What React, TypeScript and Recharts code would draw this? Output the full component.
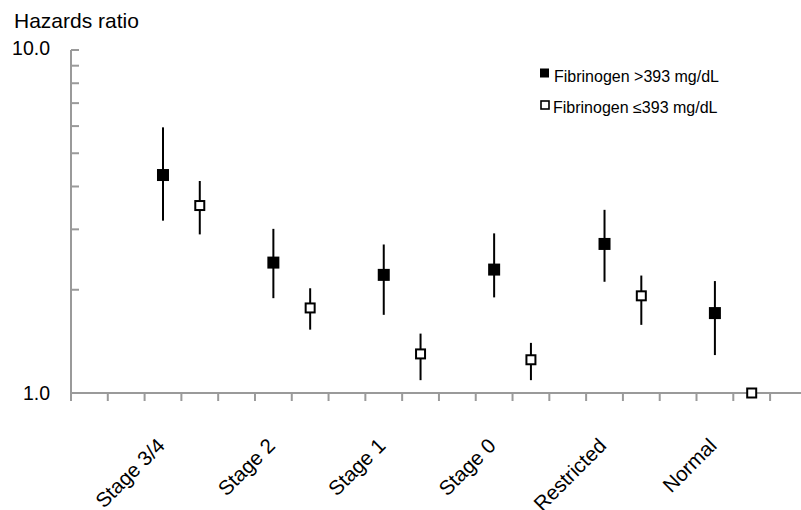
import React from 'react';
import { ScatterChart, Scatter, XAxis, YAxis, ErrorBar, Legend } from 'recharts';

const categories = ['Stage 3/4', 'Stage 2', 'Stage 1', 'Stage 0', 'Restricted', 'Normal'];
const seriesNames = ['Fibrinogen >393 mg/dL', 'Fibrinogen \u2264393 mg/dL'];

const highHR = [4.32, 2.40, 2.21, 2.29, 2.72, 1.71];
const highLo = [3.18, 1.89, 1.69, 1.90, 2.11, 1.29];
const highHi = [5.95, 3.01, 2.71, 2.92, 3.42, 2.12];

const lowHR = [3.52, 1.77, 1.30, 1.25, 1.92, 1.00];
const lowLo = [2.90, 1.53, 1.09, 1.09, 1.58, 1.00];
const lowHi = [4.15, 2.02, 1.49, 1.40, 2.20, 1.00];

const yTicks = [1, 2, 3, 4, 5, 6, 7, 8, 9, 10];
const yLabelTicks = [1, 10];
const yTickLabels = ['1.0', '10.0'];

const slotCount = 20;
const firstSlot = 2;
const slotsPerGroup = 3;
const xMax = 19.84;

const FONT = '"Liberation Sans", Arial, Helvetica, sans-serif';
const AXIS = '#9a9a9a';

const slotTicks = Array.from({ length: slotCount }, (_, i) => i);
const catPos = categories.map((_, i) => firstSlot + i * slotsPerGroup + 0.5);

const highData = categories.map((c, i) => ({
  name: c,
  x: catPos[i],
  y: highHR[i],
  err: [highHR[i] - highLo[i], highHi[i] - highHR[i]],
}));
const lowData = categories.map((c, i) => ({
  name: c,
  x: catPos[i] + 1,
  y: lowHR[i],
  err: [lowHR[i] - lowLo[i], lowHi[i] - lowHR[i]],
}));

const XTick = (props: any) => {
  const { x, y, payload } = props;
  const v = payload.value;
  const ci = catPos.indexOf(v);
  if (ci >= 0) {
    const ax = x + 3;
    const ay = y + 54;
    return (
      <text
        x={ax}
        y={ay}
        textAnchor="end"
        transform={`rotate(-45 ${ax} ${ay})`}
        fontSize={20.5}
        fontFamily={FONT}
        fill="#000"
      >
        {categories[ci]}
      </text>
    );
  }
  return <line x1={x} y1={y} x2={x} y2={y + 8} stroke={AXIS} strokeWidth={2} />;
};

const YTick = (props: any) => {
  const { x, y, payload } = props;
  const v = payload.value;
  const li = yLabelTicks.indexOf(v);
  return (
    <g>
      <line x1={x} y1={y} x2={x + 8} y2={y} stroke={AXIS} strokeWidth={2} />
      {li >= 0 && (
        <text
          x={x - 21}
          y={y + (v === 10 ? -2 : 0)}
          textAnchor="end"
          dominantBaseline="central"
          fontSize={19.5}
          fontFamily={FONT}
          fill="#000"
        >
          {yTickLabels[li]}
        </text>
      )}
    </g>
  );
};

const FilledSquare = (props: any) => {
  const { cx, cy } = props;
  return <rect x={cx - 6} y={cy - 6} width={12} height={12} fill="#000" />;
};

const OpenSquare = (props: any) => {
  const { cx, cy } = props;
  return <rect x={cx - 4.5} y={cy - 4.5} width={9} height={9} fill="#fff" stroke="#000" strokeWidth={2} />;
};

const LegendContent = () => (
  <svg width={200} height={70} style={{ display: 'block' }}>
    <rect x={6} y={13.5} width={9} height={9} fill="#000" />
    <text x={20} y={26.5} fontSize={16} fontFamily={FONT} fill="#000">
      {seriesNames[0]}
    </text>
    <rect x={7} y={46} width={8} height={8} fill="#fff" stroke="#000" strokeWidth={1.6} />
    <text x={19} y={57.5} fontSize={16} fontFamily={FONT} fill="#000">
      {seriesNames[1]}
    </text>
  </svg>
);

export default function App() {
  return (
    <div style={{ position: 'relative', width: 801, height: 510, background: '#fff', fontFamily: FONT }}>
      <style>{'body{margin:0;background:#fff;}'}</style>
      <div
        style={{
          position: 'absolute',
          left: 14,
          top: 11,
          fontSize: 21,
          lineHeight: '20px',
          fontFamily: FONT,
          color: '#000',
          whiteSpace: 'nowrap',
        }}
      >
        Hazards ratio
      </div>
      <ScatterChart width={801} height={510} margin={{ top: 50, right: 0, bottom: 0, left: 0 }}>
        <XAxis
          type="number"
          dataKey="x"
          domain={[0, xMax]}
          ticks={[...slotTicks, ...catPos]}
          interval={0}
          tickSize={0}
          tickMargin={0}
          tickLine={false}
          tick={<XTick />}
          axisLine={{ stroke: AXIS, strokeWidth: 2 }}
          height={117}
        />
        <YAxis
          type="number"
          dataKey="y"
          scale="log"
          domain={[1, 10]}
          ticks={yTicks}
          interval={0}
          tickSize={0}
          tickMargin={0}
          tickLine={false}
          tick={<YTick />}
          axisLine={{ stroke: AXIS, strokeWidth: 2 }}
          width={71}
        />
        <Legend
          layout="vertical"
          align="center"
          verticalAlign="middle"
          content={<LegendContent />}
          wrapperStyle={{ position: 'absolute', left: 534, top: 55, width: 200, height: 70 }}
        />
        <Scatter name={seriesNames[0]} data={highData} shape={<FilledSquare />} isAnimationActive={false}>
          <ErrorBar dataKey="err" direction="y" width={0} stroke="#000" strokeWidth={2} isAnimationActive={false} />
        </Scatter>
        <Scatter name={seriesNames[1]} data={lowData} shape={<OpenSquare />} isAnimationActive={false}>
          <ErrorBar dataKey="err" direction="y" width={0} stroke="#000" strokeWidth={2} isAnimationActive={false} />
        </Scatter>
      </ScatterChart>
    </div>
  );
}
